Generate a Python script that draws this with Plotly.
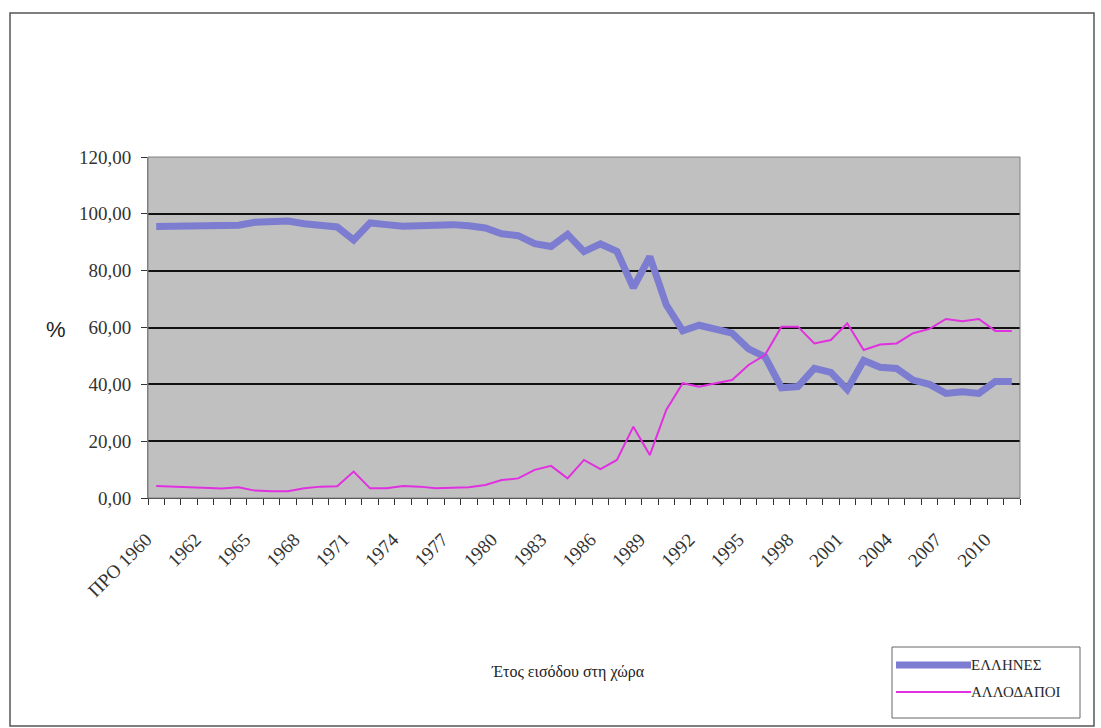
import plotly.graph_objects as go

# Categories: year of entry into the country
years = ["ΠΡΟ 1960"] + [str(y) for y in range(1960, 2012)]

# Share (%) of Greeks per entry year
ellines = [95.5, 95.6, 95.8, 96.0, 96.2, 96.0, 97.0, 97.3, 97.5, 96.5,
           95.8, 95.4, 90.8, 96.8, 96.2, 95.6, 95.8, 96.3, 96.2, 95.8,
           95.0, 93.0, 92.3, 89.5, 88.5, 92.8, 86.7, 89.4, 86.8, 74.0,
           84.9, 68.0, 58.8, 60.8, 59.6, 58.0, 52.5, 49.7, 38.8, 39.2,
           45.6, 44.2, 38.2, 48.4, 46.0, 45.6, 41.5, 40.0, 36.8, 37.4,
           36.8, 41.0, 41.0]

# Share (%) of foreigners per entry year
allodapoi = [4.2, 4.0, 3.6, 3.4, 3.3, 3.8, 2.6, 2.4, 2.4, 3.4,
             4.0, 4.1, 9.3, 3.4, 3.4, 4.2, 4.0, 3.4, 3.6, 3.8,
             4.6, 6.3, 6.9, 9.9, 11.3, 6.9, 13.4, 10.2, 13.4, 25.1,
             15.1, 31.0, 40.4, 39.2, 40.4, 41.5, 46.8, 50.3, 60.3, 60.3,
             54.4, 55.6, 61.5, 52.1, 54.0, 54.4, 58.0, 59.5, 63.0, 62.2,
             63.0, 58.8, 58.8]

series_names = ["ΕΛΛΗΝΕΣ", "ΑΛΛΟΔΑΠΟΙ"]
series_colors = ["#7c7cd0", "#e030e0"]
series_widths = [7, 2]

serif = "Liberation Serif"

fig = go.Figure()
for name, vals, col, lw in zip(series_names, [ellines, allodapoi],
                               series_colors, series_widths):
    fig.add_trace(go.Scatter(
        x=years, y=vals, mode="lines", name=name,
        line=dict(color=col, width=lw), showlegend=False,
    ))

L, R, T, B = 148, 81, 157, 230
W, H = 1101, 728
pw, ph = W - L - R, H - T - B

def px(x):
    return (x - L) / pw

def py(y):
    return (H - B - y) / ph

# hand-drawn legend box with long line samples
legend_shapes = [dict(type="rect", xref="paper", yref="paper",
                      x0=px(892), x1=px(1080), y0=py(718), y1=py(647),
                      line=dict(color="#666666", width=1), fillcolor="white")]
legend_notes = []
for i, (name, col, lw) in enumerate(zip(series_names, series_colors, series_widths)):
    yy = 665 + 27 * i
    legend_shapes.append(dict(type="line", xref="paper", yref="paper",
                              x0=px(896), x1=px(971), y0=py(yy), y1=py(yy),
                              line=dict(color=col, width=lw)))
    legend_notes.append(dict(text=name, xref="paper", yref="paper",
                             x=px(969), y=py(yy), xanchor="left", yanchor="middle",
                             showarrow=False,
                             font=dict(family=serif, size=15, color="#2a2a2a")))

fig.update_layout(
    width=W, height=H,
    margin=dict(l=L, r=R, t=T, b=B),
    font=dict(family=serif),
    paper_bgcolor="white",
    plot_bgcolor="#c0c0c0",
    separators=",.",
    xaxis=dict(
        type="category",
        tickmode="linear", dtick=1, ticklabelstep=3,
        tickson="boundaries",
        ticks="outside", ticklen=6, tickcolor="#333333", tickwidth=1,
        tickangle=-45, ticklabelstandoff=22, ticklabelshift=-10,
        tickfont=dict(family=serif, size=19, color="#333333"),
        showgrid=False,
        showline=True, linecolor="#333333", linewidth=1, mirror=False,
        range=[-0.5, len(years) - 0.5],
    ),
    yaxis=dict(
        range=[0, 120], dtick=20, tickformat=".2f",
        ticks="outside", ticklen=6, tickcolor="#333333",
        ticklabelstandoff=6,
        tickfont=dict(family=serif, size=19, color="#333333"),
        showgrid=True, gridcolor="#111111", gridwidth=2,
        zeroline=False,
        showline=True, linecolor="#808080", linewidth=1,
    ),
    annotations=[
        dict(text="%", xref="paper", yref="paper", x=px(56), y=py(329),
             xanchor="center", yanchor="middle",
             showarrow=False, font=dict(family="Liberation Sans", size=22, color="#222222")),
        dict(text="Έτος εισόδου στη χώρα", xref="paper", yref="paper",
             x=px(568), y=py(672), xanchor="center", yanchor="middle",
             showarrow=False,
             font=dict(family=serif, size=16, color="#222222")),
    ] + legend_notes,
    shapes=[
        # frame around the plotting area
        dict(type="rect", xref="paper", yref="paper", x0=0, x1=1, y0=0, y1=1,
             line=dict(color="#808080", width=1), layer="above"),
        # outer chart border
        dict(type="rect", xref="paper", yref="paper",
             x0=px(10), x1=px(1094), y0=py(726), y1=py(13),
             line=dict(color="#555555", width=1.5)),
    ] + legend_shapes,
)

fig.write_html("out.html")
